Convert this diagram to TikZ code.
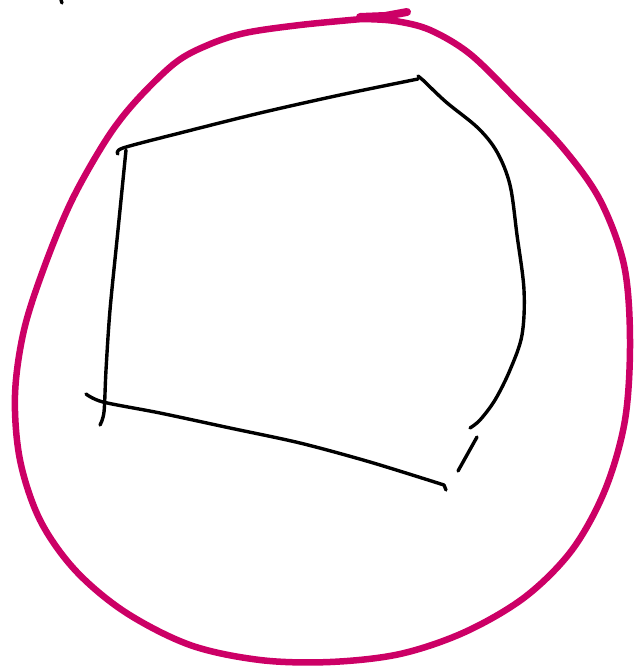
\documentclass[tikz,border=0pt]{standalone}
\usepackage{tikz}
\definecolor{inkmagenta}{RGB}{204,0,102}

\begin{document}
\begin{tikzpicture}[x=1pt,y=-1pt,line cap=round,line join=round,
  loopline/.style={draw=inkmagenta,line width=6.5pt},
  penline/.style={draw=black,line width=3.4pt}]
\useasboundingbox (0,0) rectangle (634,666);
% magenta loop
\draw[loopline] plot[smooth,tension=0.55] coordinates {(362,19) (300,25) (245,33) (208,45) (175,63) (135,102) (106,140) (72,200) (45,265) (24,330) (15,395) (20,460) (40,520) (75,570) (125,612) (190,645) (260,660) (330,662) (400,654) (465,632) (525,597) (572,550) (605,490) (625,420) (630,340) (624,265) (600,200) (563,148) (515,98) (470,54) (430,30) (395,21) (362,19)};
\draw[loopline,line width=8pt] (360,17) -- (385,16) -- (407,12);
% black sketch
\draw[penline] plot[smooth,tension=0.5] coordinates {(118,154) (123,148) (180,133) (260,113) (340,95) (418,79)};
\draw[penline] (418,76) -- (424,81);
\draw[penline] plot[smooth,tension=0.55] coordinates {(424,81) (446,102) (478,128) (497,152) (510,185) (517,235) (524,290) (522,335) (510,370) (495,400) (480,420) (470,428)};
\draw[penline] (477,437) -- (458,471);
\draw[penline] plot[smooth,tension=0.5] coordinates {(126,150) (118,230) (110,310) (106,370) (104,412) (100,425)};
\draw[penline] plot[smooth,tension=0.5] coordinates {(86,394) (103,402) (160,413) (230,428) (300,443) (370,462) (444,485)};
\draw[penline] (444,485) -- (446,490);
\draw[penline] (61,0) -- (62,3);
\end{tikzpicture}
\end{document}
